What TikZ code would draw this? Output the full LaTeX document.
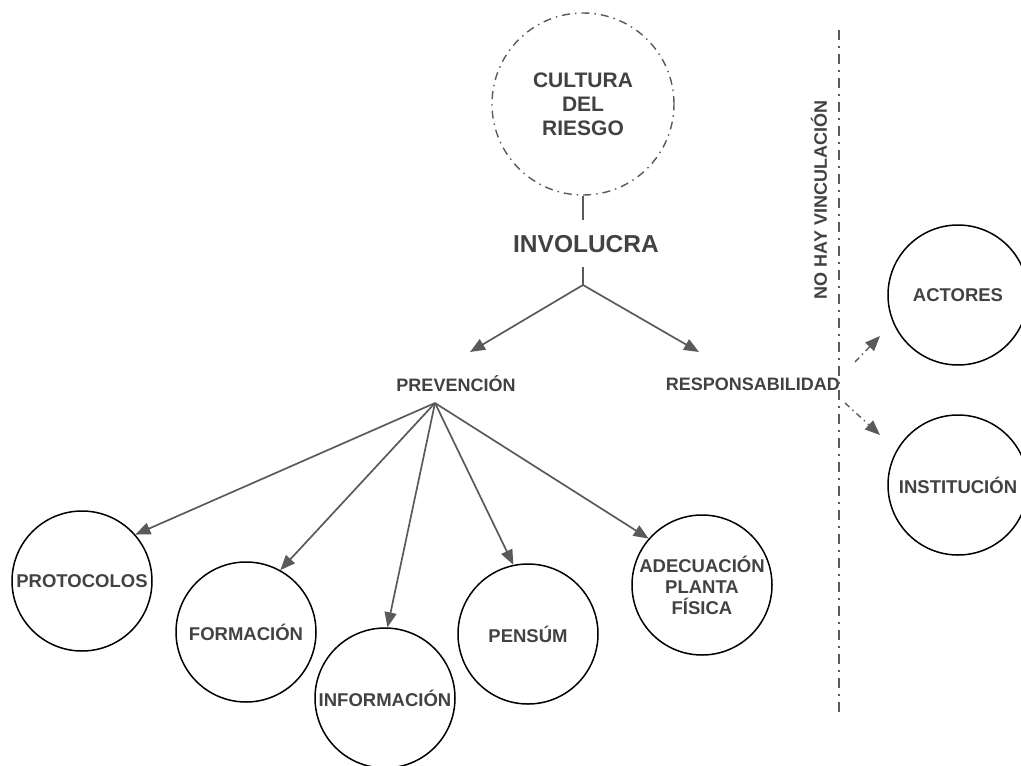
\documentclass[tikz,border=0pt]{standalone}
\usepackage{fontspec}
\setmainfont{Liberation Sans}
\usetikzlibrary{arrows.meta}
\definecolor{txt}{HTML}{424242}
\definecolor{arr}{HTML}{5A5A5A}
\tikzset{
  circ/.style={circle, draw=black, line width=1.5pt, minimum size=140pt, inner sep=0pt, align=center,
    text=txt, font=\bfseries\fontsize{18.5}{21}\selectfont},
  lbl/.style={text=txt, inner sep=0pt, font=\bfseries\fontsize{18}{21}\selectfont},
  conn/.style={draw=arr, line width=1.7pt, -{Triangle[length=15pt,width=12pt]}},
  plain/.style={draw=arr, line width=1.7pt},
  dashdot/.style={draw=arr, line width=1.8pt, dash pattern=on 10pt off 6pt on 2pt off 6pt},
}
\begin{document}
\begin{tikzpicture}[x=1pt,y=-1pt]
\useasboundingbox (0,0) rectangle (1021,766);
% top
\node[circle, minimum size=182pt, inner sep=0pt, draw=arr, line width=1.4pt,
  dash pattern=on 8pt off 5pt on 1.5pt off 5pt, align=center, text=txt,
  font=\bfseries\fontsize{21}{24}\selectfont] (cultura) at (583,104) {CULTURA\\DEL\\RIESGO};
\node[text=txt, inner sep=0pt, font=\bfseries\fontsize{24.5}{28}\selectfont] (involucra) at (586,244) {INVOLUCRA};
\coordinate (a1) at (583,220);
\coordinate (a2) at (583,267);
\coordinate (apex) at (583,285);
\draw[plain] (cultura.south) -- (a1);
\draw[plain] (a2) -- (apex);
\coordinate (tipl) at (470,352);
\coordinate (tipr) at (699,352);
\draw[conn] (apex) -- (tipl);
\draw[conn] (apex) -- (tipr);
% middle labels
\node[lbl] (prev) at (456,384) {PREVENCIÓN};
\node[lbl, anchor=east] (resp) at (840,384) {RESPONSABILIDAD};
\coordinate (papex) at (435,403);
% bottom circles
\node[circ] (prot) at (82,581) {PROTOCOLOS};
\node[circ] (form) at (246,632) {FORMACIÓN};
\node[circ] (info) at (385,698) {INFORMACIÓN};
\node[circ] (pens) at (528,634) {PENSÚM};
\node[circ] (adec) at (702,585) {ADECUACIÓN\\PLANTA\\FÍSICA};
\draw[conn] (papex) -- (prot.41);
\draw[conn] (papex) -- (form.61);
\draw[conn] (papex) -- (info.88);
\draw[conn] (papex) -- (pens.102);
\draw[conn] (papex) -- (adec.139);
% right side
\node[circ] (act) at (958,295) {ACTORES};
\node[circ] (inst) at (958,485) {INSTITUCIÓN};
\coordinate (vtop) at (839,30);
\coordinate (vbot) at (839,716);
\draw[dashdot] (vtop) -- (vbot);
\node[lbl, rotate=90] (nohay) at (819,200) {NO HAY VINCULACIÓN};
\coordinate (d1s) at (855,362);
\coordinate (d1e) at (880,336);
\coordinate (d2s) at (845,403);
\coordinate (d2e) at (880,435);
\draw[dashdot, line width=1.4pt, dash pattern=on 6pt off 4pt on 1.5pt off 4pt, -{Triangle[length=15pt,width=12pt]}] (d1s) -- (d1e);
\draw[dashdot, line width=1.4pt, dash pattern=on 6pt off 4pt on 1.5pt off 4pt, -{Triangle[length=15pt,width=12pt]}] (d2s) -- (d2e);
\end{tikzpicture}
\end{document}
